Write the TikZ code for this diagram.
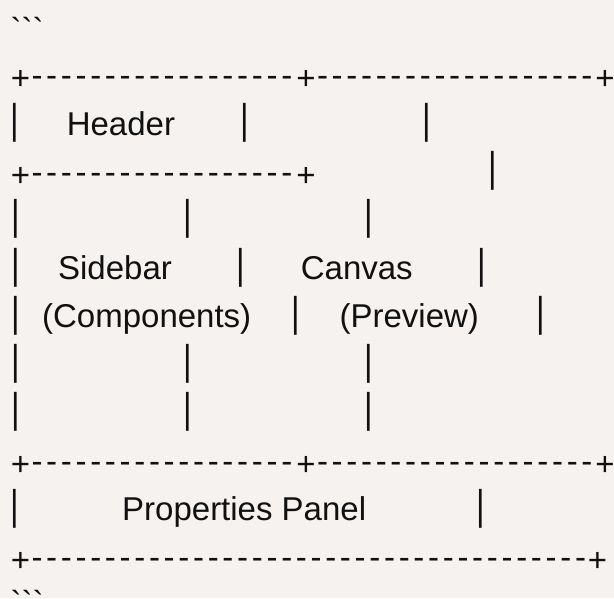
\documentclass[tikz,border=0pt]{standalone}
\usepackage{fontspec}
\newfontfamily\af{Liberation Sans}[Ligatures=TeXOff]
\definecolor{bg}{HTML}{F5F2EF}
\definecolor{ink}{HTML}{111111}
\newcommand\dashrun[1]{\foreach \i in {1,...,#1}{-\kern3.7pt}}
\newcommand\vbar{\raisebox{1.5pt}{\scalebox{1}[1.26]{|}}}
\newcommand\ticks{`\kern0pt`\kern0pt`}
\tikzset{
  txt/.style={inner sep=0pt, outer sep=0pt, anchor=base, text=ink, font=\af\fontsize{33}{40}\selectfont},
  plus/.style={txt, yshift=-2.9pt},
  bar/.style={txt},
  run/.style={txt, anchor=base west, xshift=-1.45pt},
  lbl/.style={txt},
  tick/.style={txt, anchor=base west},
}
\begin{document}
\begin{tikzpicture}[x=1pt,y=-1pt]
\fill[bg] (0,0) rectangle (614,598);
\useasboundingbox (0,0) rectangle (614,598);
% row 1
\node[tick] (tickA) at (10.7,41) {\ticks};
% row 2
\node[plus] (p2a) at (20.5,86.8) {+};
\node[run]  (d2a) at (33,86.8) {\dashrun{18}};
\node[plus] (p2b) at (306,86.8) {+};
\node[run]  (d2b) at (318.5,86.8) {\dashrun{19}};
\node[plus] (p2c) at (605,86.8) {+};
% row 3
\node[bar] (b3a) at (15,135) {\vbar};
\node[lbl] (header) at (120.9,135) {Header};
\node[bar] (b3b) at (245,135) {\vbar};
\node[bar] (b3c) at (426.8,135) {\vbar};
% row 4
\node[plus] (p4a) at (20.5,183.2) {+};
\node[run]  (d4a) at (33,183.2) {\dashrun{18}};
\node[plus] (p4b) at (306,183.2) {+};
\node[bar]  (b4a) at (492.6,183.2) {\vbar};
% row 5
\node[bar] (b5a) at (15.7,231.4) {\vbar};
\node[bar] (b5b) at (188,231.4) {\vbar};
\node[bar] (b5c) at (368.8,231.4) {\vbar};
% row 6
\node[bar] (b6a) at (15.7,279.6) {\vbar};
\node[lbl] (sidebar) at (115,279.6) {Sidebar};
\node[bar] (b6b) at (240.8,279.6) {\vbar};
\node[lbl] (canvas) at (356.8,279.6) {Canvas};
\node[bar] (b6c) at (481.6,279.6) {\vbar};
% row 7
\node[bar] (b7a) at (15.7,327.8) {\vbar};
\node[lbl] (components) at (146.7,327.8) {(Components)};
\node[bar] (b7b) at (295.6,327.8) {\vbar};
\node[lbl] (preview) at (409.3,327.8) {(Preview)};
\node[bar] (b7c) at (540.3,327.8) {\vbar};
% row 8
\node[bar] (b8a) at (15.7,376) {\vbar};
\node[bar] (b8b) at (188,376) {\vbar};
\node[bar] (b8c) at (368.8,376) {\vbar};
% row 9
\node[bar] (b9a) at (15.7,424.2) {\vbar};
\node[bar] (b9b) at (188,424.2) {\vbar};
\node[bar] (b9c) at (368.8,424.2) {\vbar};
% row 10
\node[plus] (p10a) at (20.5,472.4) {+};
\node[run]  (d10a) at (33,472.4) {\dashrun{18}};
\node[plus] (p10b) at (306,472.4) {+};
\node[run]  (d10b) at (318.5,472.4) {\dashrun{19}};
\node[plus] (p10c) at (605,472.4) {+};
% row 11
\node[bar] (b11a) at (15,520.6) {\vbar};
\node[lbl] (props) at (244.2,520.6) {Properties Panel};
\node[bar] (b11b) at (480.8,520.6) {\vbar};
% row 12
\node[plus] (p12a) at (20.5,568.8) {+};
\node[run]  (d12a) at (33,568.8) {\dashrun{38}};
\node[plus] (p12b) at (597.4,568.8) {+};
% row 13
\node[tick] (tickB) at (10.7,614) {\ticks};
\end{tikzpicture}
\end{document}
